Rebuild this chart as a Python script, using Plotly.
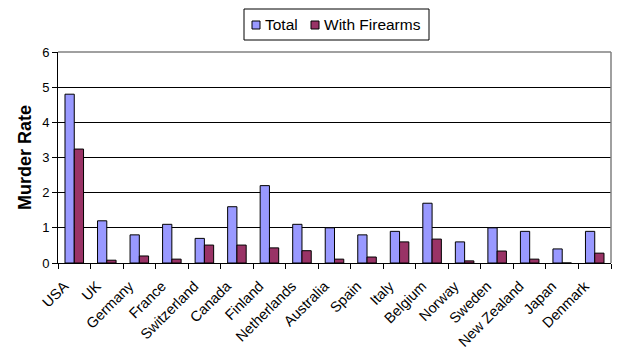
import plotly.graph_objects as go

countries = ["USA", "UK", "Germany", "France", "Switzerland", "Canada", "Finland",
             "Netherlands", "Australia", "Spain", "Italy", "Belgium", "Norway",
             "Sweden", "New Zealand", "Japan", "Denmark"]
total = [4.8, 1.2, 0.8, 1.1, 0.7, 1.6, 2.2, 1.1, 1.0, 0.8, 0.9, 1.7, 0.6, 1.0, 0.9, 0.4, 0.9]
firearms = [3.24, 0.08, 0.2, 0.11, 0.51, 0.51, 0.43, 0.35, 0.11, 0.17, 0.6, 0.68, 0.06, 0.34, 0.11, 0.0, 0.28]
series_names = ["Total", "With Firearms"]
colors = ["#9999FF", "#993366"]

FONT = "Arial"

fig = go.Figure()
fig.add_trace(go.Bar(x=countries, y=total, name=series_names[0],
                     marker=dict(color=colors[0], line=dict(color="black", width=1))))
fig.add_trace(go.Bar(x=countries, y=firearms, name=series_names[1],
                     marker=dict(color=colors[1], line=dict(color="black", width=1))))

pl, pr, pt, pb = 58, 611, 52, 263
W, H = 622, 358
fig.update_layout(
    width=W, height=H,
    margin=dict(l=pl, r=W - pr, t=pt, b=H - pb, autoexpand=False),
    paper_bgcolor="white", plot_bgcolor="white",
    barmode="group", bargap=0.43, bargroupgap=0,
    font=dict(family=FONT, size=13, color="black"),
    showlegend=False,
)

fig.update_xaxes(type="category", tickangle=-45, tickson="boundaries",
                 ticks="outside", ticklen=5, tickcolor="black", automargin=False,
                 ticklabelstandoff=8, ticklabelshift=-10,
                 showline=True, linecolor="black", linewidth=1,
                 showgrid=False, tickfont=dict(size=14.5, family=FONT))
fig.update_yaxes(range=[0, 6], dtick=1, ticks="outside", ticklen=5, tickcolor="black",
                 showline=True, linecolor="black", linewidth=1, automargin=False,
                 showgrid=True, gridcolor="black", gridwidth=1,
                 zeroline=False, tickfont=dict(size=13, family=FONT),
                 title=dict(text="<b>Murder Rate</b>", font=dict(size=18, family=FONT), standoff=5))

fig.add_shape(type="line", xref="x domain", yref="y domain", x0=0, x1=1, y0=1, y1=1,
              line=dict(color="#808080", width=1.5))
fig.add_shape(type="line", xref="x domain", yref="y domain", x0=1, x1=1, y0=0, y1=1,
              line=dict(color="#808080", width=1.5))

def fx(x): return (x - pl) / (pr - pl)
def fy(y): return (pb - y) / (pb - pt)

fig.add_shape(type="rect", xref="paper", yref="paper", x0=fx(244), x1=fx(429), y0=fy(40), y1=fy(9),
              line=dict(color="black", width=1), fillcolor="white")
legend_items = [(252, series_names[0], colors[0]), (311, series_names[1], colors[1])]
for lx, name, col in legend_items:
    fig.add_shape(type="rect", xref="paper", yref="paper", x0=fx(lx), x1=fx(lx + 8),
                  y0=fy(29), y1=fy(21), line=dict(color="black", width=1), fillcolor=col)
    fig.add_annotation(xref="paper", yref="paper", x=fx(lx + 11), y=fy(25), text=name,
                       showarrow=False, xanchor="left", yanchor="middle",
                       font=dict(size=15.5, family=FONT, color="black"))

fig.write_html("out.html", post_script="document.body.style.margin='0';",
               config={"displayModeBar": False, "staticPlot": True})
